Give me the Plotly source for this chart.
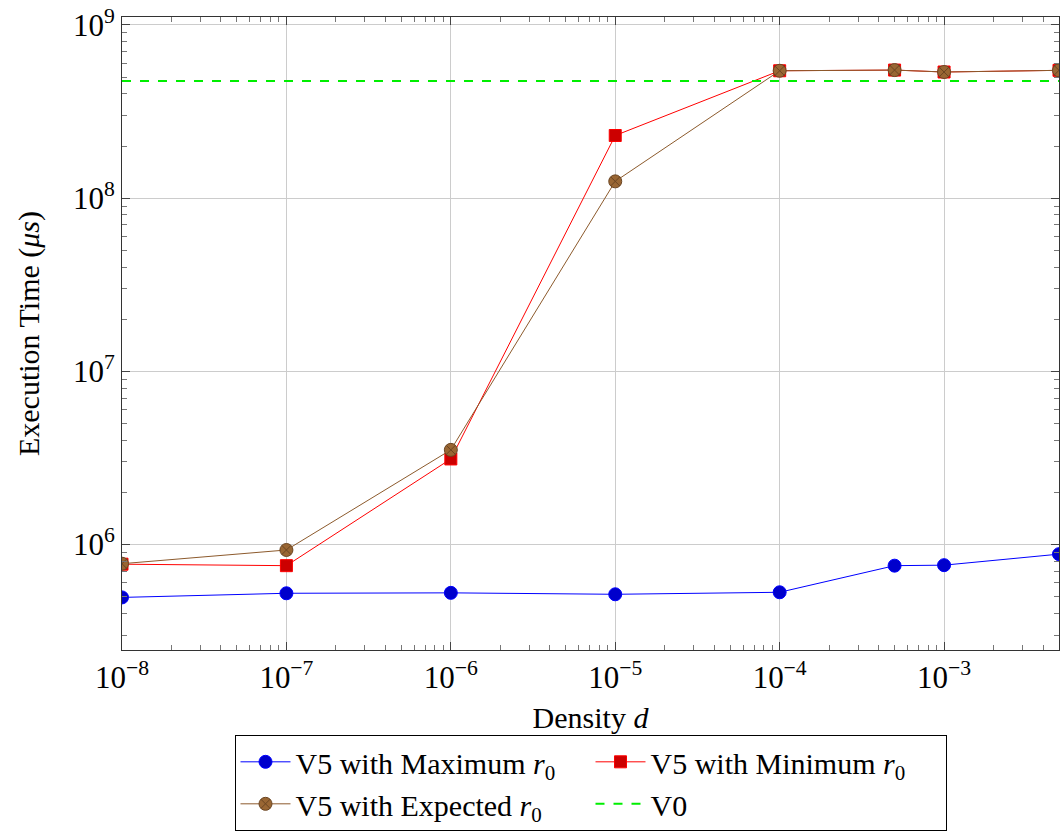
import plotly.graph_objects as go

# Density values (x) shared by every V5 series
density = [1e-8, 1e-7, 1e-6, 1e-5, 1e-4, 5e-4, 1e-3, 5e-3]

# Execution times in microseconds
v5_max = [4.95e5, 5.23e5, 5.26e5, 5.16e5, 5.3e5, 7.55e5, 7.6e5, 8.8e5]
v5_min = [7.7e5, 7.55e5, 3.12e6, 2.3e8, 5.44e8, 5.49e8, 5.35e8, 5.47e8]
v5_exp = [7.75e5, 9.3e5, 3.52e6, 1.25e8, 5.44e8, 5.49e8, 5.35e8, 5.47e8]
v0_time = 4.75e8

x_tickvals = [1e-8, 1e-7, 1e-6, 1e-5, 1e-4, 1e-3]
x_ticktext = ["10<sup>−8</sup>", "10<sup>−7</sup>", "10<sup>−6</sup>",
              "10<sup>−5</sup>", "10<sup>−4</sup>", "10<sup>−3</sup>"]
y_tickvals = [1e6, 1e7, 1e8, 1e9]
y_ticktext = ["10<sup>6</sup>", "10<sup>7</sup>", "10<sup>8</sup>", "10<sup>9</sup>"]

FONT = "Liberation Serif"

fig = go.Figure()
fig.add_trace(go.Scatter(
    x=density, y=v5_max, mode="lines+markers",
    name="V5 with Maximum <i>r</i><sub>0</sub>",
    line=dict(color="#0000ff", width=1),
    marker=dict(symbol="circle", size=13, color="#0000cc", line=dict(color="#0000ff", width=1)),
))
fig.add_trace(go.Scatter(
    x=density, y=v5_min, mode="lines+markers",
    name="V5 with Minimum <i>r</i><sub>0</sub>",
    line=dict(color="#ff0000", width=1),
    marker=dict(symbol="square", size=12, color="#cc0000", line=dict(color="#ff0000", width=1)),
))
fig.add_trace(go.Scatter(
    x=density, y=v5_exp, mode="lines+markers",
    name="V5 with Expected <i>r</i><sub>0</sub>",
    line=dict(color="#8c5a2c", width=1),
    marker=dict(symbol="circle-x", size=13, color="#996633", line=dict(color="#6b4522", width=1)),
))
fig.add_trace(go.Scatter(
    x=[density[0], density[-1]], y=[v0_time, v0_time], mode="lines",
    name="V0",
    line=dict(color="#00ee00", width=2, dash="dash"),
))

axis_common = dict(
    type="log",
    showline=True, linecolor="#333333", linewidth=1, mirror="allticks",
    ticks="inside", ticklen=8, tickcolor="#444444",
    showgrid=True, gridcolor="#cccccc", gridwidth=1,
    zeroline=False,
    tickfont=dict(family=FONT, size=31, color="black"),
    minor=dict(ticks="inside", ticklen=5, tickcolor="#777777", showgrid=False, dtick="D1"),
)

fig.update_xaxes(
    **axis_common,
    range=[-8, -2.301],
    tickvals=x_tickvals, ticktext=x_ticktext,
    title=dict(text="Density <i>d</i>", font=dict(family=FONT, size=30, color="black"), standoff=12),
)
fig.update_yaxes(
    **axis_common,
    range=[5.391, 9.046],
    tickvals=y_tickvals, ticktext=y_ticktext,
    title=dict(text="Execution Time (<i>μs</i>)", font=dict(family=FONT, size=30, color="black"), standoff=24),
)

fig.update_layout(
    width=1060, height=832,
    margin=dict(l=122, r=1, t=17, b=179),
    plot_bgcolor="white", paper_bgcolor="white",
    font=dict(family=FONT, color="black"),
    legend=dict(
        orientation="h", x=0.5, xanchor="center", y=-0.134, yanchor="top",
        entrywidth=290, entrywidthmode="pixels",
        bordercolor="black", borderwidth=1,
        font=dict(family=FONT, size=30, color="black"),
        itemwidth=50, tracegroupgap=0,
    ),
    showlegend=True,
)

fig.write_html("out.html")
